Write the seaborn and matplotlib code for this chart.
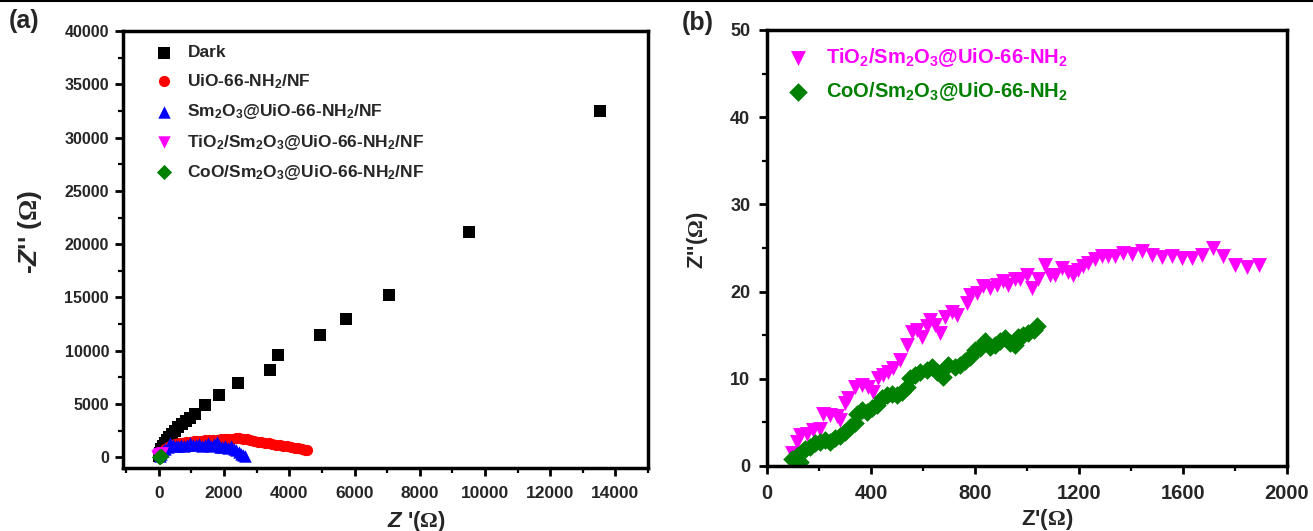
import numpy as np
import pandas as pd
import matplotlib
matplotlib.use("Agg")
import matplotlib.pyplot as plt
import seaborn as sns
from matplotlib.ticker import MultipleLocator
from matplotlib.lines import Line2D

# ---------------- data ----------------
dark_x = [0, 40, 80, 130, 190, 250, 320, 400, 490, 600, 700, 820, 950, 1120,
          1420, 1830, 2430, 3400, 3650, 4950, 5750, 7050, 9520, 13520]
dark_y = [150, 450, 750, 1050, 1350, 1600, 1900, 2200, 2500, 2800, 3100, 3400,
          3700, 4100, 4950, 5850, 6950, 8150, 9600, 11500, 12950, 15250, 21150, 32500]

uio_x = [60, 120, 200, 290, 390, 500, 610, 720, 830, 950, 1070, 1180, 1300, 1420,
         1540, 1660, 1780, 1900, 2020, 2130, 2250, 2360, 2470, 2580, 2690, 2800,
         2920, 3030, 3140, 3260, 3370, 3480, 3600, 3710, 3820, 3940, 4050, 4160,
         4270, 4380, 4480, 4550]
uio_y = [250, 520, 800, 1000, 1150, 1260, 1330, 1380, 1420, 1480, 1520, 1540, 1570,
         1600, 1620, 1640, 1660, 1680, 1700, 1720, 1740, 1790, 1830, 1760, 1680,
         1600, 1530, 1480, 1420, 1360, 1300, 1250, 1200, 1150, 1090, 1030, 960,
         900, 830, 760, 700, 720]

sm_x = [30, 80, 140, 200, 270, 350, 430, 510, 600, 690, 780, 870, 960, 1050, 1140,
        1230, 1320, 1410, 1500, 1590, 1680, 1770, 1860, 1950, 2040, 2130, 2220,
        2300, 2380, 2450, 2520, 2580, 2640]
sm_y = [100, 350, 600, 820, 1000, 1350, 1150, 1050, 1080, 1200, 1100, 1150, 1300,
        1120, 1180, 1250, 1100, 1150, 1350, 1100, 1250, 1450, 1000, 950, 1050, 900,
        1100, 800, 650, 500, 350, 200, 80]

tio_a_x = [-60, -20, 10, 30, 50, 70, 90, 110]
tio_a_y = [120, 250, 300, 330, 350, 360, 370, 380]
coo_a_x = [10, 20, 30, 40, 50, 60]
coo_a_y = [20, 40, 60, 80, 100, 120]

tio_x = [95, 114, 127, 153, 178, 204, 217, 242, 268, 281, 300, 313, 338, 364, 390,
         409, 428, 447, 467, 486, 511, 537, 556, 576, 595, 614, 627, 646, 665, 685,
         710, 730, 768, 781, 807, 832, 858, 883, 909, 928, 954, 973, 999, 1018,
         1043, 1069, 1088, 1108, 1133, 1159, 1178, 1197, 1216, 1236, 1262, 1287,
         1313, 1338, 1370, 1403, 1441, 1480, 1518, 1556, 1595, 1633, 1672, 1717,
         1755, 1800, 1845, 1893]
tio_y = [1.5, 2.7, 3.6, 3.7, 4.1, 4.3, 6.0, 5.8, 5.7, 5.3, 7.2, 7.8, 9.1, 9.3, 9.1,
         8.5, 10.1, 10.4, 10.8, 11.2, 12.2, 13.9, 15.4, 15.6, 14.8, 16.0, 16.7,
         16.2, 15.2, 17.1, 17.7, 17.3, 18.7, 19.6, 19.8, 20.6, 20.4, 20.8, 21.2,
         20.8, 21.5, 21.5, 21.9, 20.4, 21.4, 23.1, 21.9, 21.9, 22.7, 22.3, 21.9,
         22.5, 22.9, 23.3, 23.7, 24.1, 24.1, 24.1, 24.4, 24.3, 24.6, 24.2, 24.0,
         24.1, 23.8, 23.8, 24.2, 25.0, 24.1, 23.1, 22.8, 23.1]

coo_x = [95, 114, 127, 133, 146, 165, 185, 204, 223, 242, 262, 281, 300, 319, 338,
         345, 364, 383, 403, 422, 441, 460, 480, 499, 518, 537, 550, 569, 588, 614,
         633, 653, 678, 697, 723, 742, 762, 781, 800, 819, 838, 858, 877, 896, 915,
         935, 954, 967, 986, 1005, 1025, 1040]
coo_y = [0.8, 1.1, 0.5, 1.6, 2.0, 2.2, 2.6, 2.8, 3.0, 2.8, 3.2, 3.4, 3.9, 4.5, 4.9,
         6.0, 6.4, 6.2, 6.6, 7.0, 7.8, 8.1, 8.3, 8.1, 8.5, 9.1, 10.1, 10.4, 10.8,
         11.0, 11.4, 10.8, 10.2, 11.6, 11.4, 11.6, 12.0, 12.5, 13.3, 13.5, 14.3,
         13.7, 13.9, 14.3, 14.7, 14.1, 13.9, 14.8, 15.0, 15.2, 15.6, 16.0]

labels_a = ["Dark",
            r"UiO-66-NH$_2$/NF",
            r"Sm$_2$O$_3$@UiO-66-NH$_2$/NF",
            r"TiO$_2$/Sm$_2$O$_3$@UiO-66-NH$_2$/NF",
            r"CoO/Sm$_2$O$_3$@UiO-66-NH$_2$/NF"]
labels_b = [r"TiO$_2$/Sm$_2$O$_3$@UiO-66-NH$_2$",
            r"CoO/Sm$_2$O$_3$@UiO-66-NH$_2$"]

# ---------------- style ----------------
sns.set_theme(style="white")
plt.rcParams["font.family"] = ["Liberation Sans", "DejaVu Sans"]
plt.rcParams["font.weight"] = "bold"
plt.rcParams["axes.labelweight"] = "bold"
plt.rcParams["mathtext.fontset"] = "custom"
plt.rcParams["mathtext.rm"] = "Liberation Serif"
plt.rcParams["mathtext.it"] = "Liberation Sans:italic:bold"
plt.rcParams["mathtext.bf"] = "Liberation Sans:bold"
plt.rcParams["mathtext.default"] = "bf"

MAG = "#FF00FF"
GRN = "#008000"

fig = plt.figure(figsize=(13.13, 5.31), dpi=100)
ax1 = fig.add_axes([123/1313, 1-468/531, 525/1313, 437/531])
ax2 = fig.add_axes([767/1313, 1-466/531, 520/1313, 436/531])

# ---------------- panel (a) ----------------
sns.scatterplot(x=dark_x, y=dark_y, ax=ax1, marker="s", color="black", s=70,
                linewidth=0, label=labels_a[0])
sns.scatterplot(x=uio_x, y=uio_y, ax=ax1, marker="o", color="#FF0000", s=65,
                linewidth=0, label=labels_a[1])
sns.scatterplot(x=sm_x, y=sm_y, ax=ax1, marker="^", color="#0000FF", s=80,
                linewidth=0, label=labels_a[2])
sns.scatterplot(x=tio_a_x, y=tio_a_y, ax=ax1, marker="v", color=MAG, s=80,
                linewidth=0, label=labels_a[3])
sns.scatterplot(x=coo_a_x, y=coo_a_y, ax=ax1, marker="D", color=GRN, s=60,
                linewidth=0, label=labels_a[4])

ax1.set_xlim(-1100, 15000)
ax1.set_ylim(-1000, 40000)
ax1.xaxis.set_major_locator(MultipleLocator(2000))
ax1.xaxis.set_minor_locator(MultipleLocator(1000))
ax1.yaxis.set_major_locator(MultipleLocator(5000))
ax1.yaxis.set_minor_locator(MultipleLocator(2500))
ax1.tick_params(axis="x", which="major", labelsize=12.5, pad=7)
ax1.tick_params(axis="y", which="major", labelsize=11.5, pad=4)
ax1.set_xlabel(r"$\mathit{Z}$ '($\mathrm{\Omega}$)", fontsize=16)
ax1.set_ylabel(r"-$\mathit{Z}$'' ($\mathrm{\Omega}$)", fontsize=19)
ax1.xaxis.set_label_coords(0.56, -0.093)
ax1.yaxis.set_label_coords(-0.15, 0.54)

leg1 = ax1.legend(loc="upper left", bbox_to_anchor=(0.035, 0.995), frameon=False,
                  prop={"weight": "bold", "size": 12.5}, handletextpad=0.75,
                  labelspacing=0.66, borderpad=0.2, handlelength=1.2,
                  markerscale=1.0)

# ---------------- panel (b) ----------------
sns.scatterplot(x=tio_x, y=tio_y, ax=ax2, marker="v", color=MAG, s=115,
                linewidth=0, label=labels_b[0])
sns.scatterplot(x=coo_x, y=coo_y, ax=ax2, marker="D", color=GRN, s=90,
                linewidth=0, label=labels_b[1])
ax2.set_xlim(0, 2000)
ax2.set_ylim(0, 50)
ax2.xaxis.set_major_locator(MultipleLocator(400))
ax2.xaxis.set_minor_locator(MultipleLocator(200))
ax2.yaxis.set_major_locator(MultipleLocator(10))
ax2.yaxis.set_minor_locator(MultipleLocator(5))
ax2.tick_params(axis="x", which="major", labelsize=14.5, pad=7)
ax2.tick_params(axis="y", which="major", labelsize=13, pad=6)
ax2.set_xlabel(r"Z'($\mathrm{\Omega}$)", fontsize=16)
ax2.set_ylabel(r"Z''($\mathrm{\Omega}$)", fontsize=16)
ax2.xaxis.set_label_coords(0.538, -0.093)
ax2.yaxis.set_label_coords(-0.11, 0.518)

leg2 = ax2.legend(loc="upper left", bbox_to_anchor=(0.01, 0.995), frameon=False,
                  prop={"weight": "bold", "size": 14.5}, handletextpad=0.75,
                  labelspacing=0.55, borderpad=0.2, handlelength=1.2)
for t, c in zip(leg2.get_texts(), [MAG, GRN]):
    t.set_color(c)

for ax in (ax1, ax2):
    for sp in ax.spines.values():
        sp.set_visible(True)
        sp.set_color("black")
        sp.set_linewidth(2.5)
    ax.tick_params(which="major", direction="out", length=6, width=2,
                   color="black", bottom=True, left=True, top=False, right=False)
    ax.tick_params(which="minor", direction="out", length=3.5, width=1.6,
                   color="black", bottom=True, left=True, top=False, right=False)
    for lab in ax.get_xticklabels() + ax.get_yticklabels():
        lab.set_fontweight("bold")
    ax.grid(False)

fig.text(24/1313, 1-21/531, "(a)", fontsize=18, fontweight="bold",
         ha="center", va="center")
fig.text(698/1313, 1-23/531, "(b)", fontsize=18, fontweight="bold",
         ha="center", va="center")
fig.add_artist(Line2D([0, 1], [0.998, 0.998], color="black", linewidth=1.5,
                      transform=fig.transFigure))

fig.savefig("out.png", dpi=100)
